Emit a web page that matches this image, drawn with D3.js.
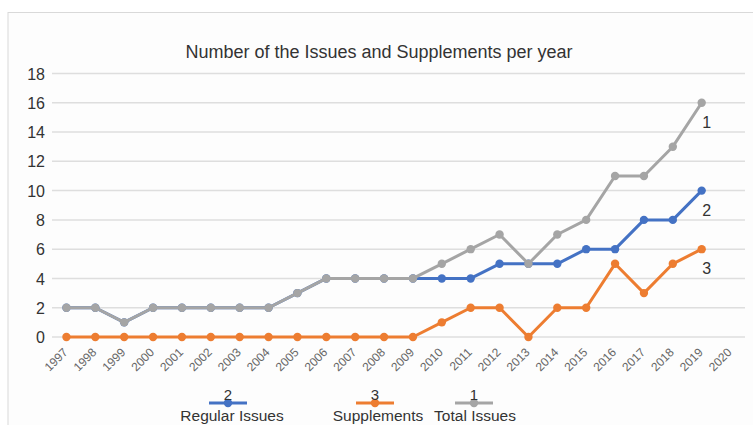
<!DOCTYPE html>
<html><head><meta charset="utf-8">
<script src="https://cdn.jsdelivr.net/npm/d3@7"></script>
<style>body{margin:0;background:#fff;}svg{display:block;font-family:"Liberation Sans",Arial,sans-serif;}</style>
</head><body>
<svg id="c" width="753" height="425"></svg>
<script>
const years = ["1997","1998","1999","2000","2001","2002","2003","2004","2005","2006","2007","2008","2009","2010","2011","2012","2013","2014","2015","2016","2017","2018","2019","2020"];
const regularIssues = [2,2,1,2,2,2,2,2,3,4,4,4,4,4,4,5,5,5,6,6,8,8,10];
const supplements   = [0,0,0,0,0,0,0,0,0,0,0,0,0,1,2,2,0,2,2,5,3,5,6];
const totalIssues   = [2,2,1,2,2,2,2,2,3,4,4,4,4,5,6,7,5,7,8,11,11,13,16];
const yTicks = [0,2,4,6,8,10,12,14,16,18];
const seriesNames = ["Regular Issues","Supplements","Total Issues"];
const seriesTags = ["2","3","1"];
const colors = ["#4472c4","#ed7d31","#a5a5a5"];
const title = "Number of the Issues and Supplements per year";

const svg = d3.select("#c");
svg.append("rect").attr("x",8).attr("y",12.5).attr("width",760).attr("height",430)
  .attr("fill","#fdfdfd").attr("stroke","#d9d9d9").attr("stroke-width",1);

const x = d3.scaleBand().domain(years).range([52,745]).padding(0);
const cx = d => x(d) + x.bandwidth()/2;
const y = d3.scaleLinear().domain([0,18]).range([337,73.5]);

svg.append("text").attr("x",379).attr("y",58).attr("text-anchor","middle")
  .attr("font-size",18).attr("fill","#333").text(title);

// grid
const yAxis = d3.axisLeft(y).tickValues(yTicks).tickSize(0).tickPadding(0);
const gy = svg.append("g").attr("transform","translate(45,0)").call(yAxis);
gy.select(".domain").remove();
gy.selectAll("text").attr("font-size",16).attr("fill","#333").attr("dy","0.35em");
svg.append("g").selectAll("line").data(yTicks).join("line")
  .attr("x1",52).attr("x2",745).attr("y1",d=>y(d)).attr("y2",d=>y(d))
  .attr("stroke","#dedede").attr("stroke-width",1.5);

// x labels
const xAxis = d3.axisBottom(x).tickSize(0).tickPadding(0);
const gx = svg.append("g").attr("transform","translate(0,337)").call(xAxis);
gx.select(".domain").remove();
gx.selectAll("text").attr("font-size",12).attr("fill","#666")
  .attr("text-anchor","end").attr("dy",0)
  .attr("transform","translate(2,16) rotate(-45)");

const data = [regularIssues, supplements, totalIssues];
const line = d3.line().x((d,i)=>cx(years[i])).y(d=>y(d));
data.forEach((vals,k)=>{
  const g = svg.append("g");
  g.append("path").datum(vals).attr("d",line).attr("fill","none")
    .attr("stroke",colors[k]).attr("stroke-width",3).attr("stroke-linejoin","round");
  g.selectAll("circle").data(vals).join("circle")
    .attr("cx",(d,i)=>cx(years[i])).attr("cy",d=>y(d)).attr("r",4.2).attr("fill",colors[k]);
  const last = vals.length-1;
  g.append("text").attr("x",cx(years[last])+5).attr("y",y(vals[last])+25)
    .attr("text-anchor","middle").attr("font-size",16).attr("fill","#333").text(seriesTags[k]);
});

// legend
const legendX = [228,375,474];
seriesNames.forEach((n,k)=>{
  const g = svg.append("g").attr("transform",`translate(${legendX[k]},0)`);
  g.append("line").attr("x1",-19).attr("x2",19).attr("y1",403).attr("y2",403)
    .attr("stroke",colors[k]).attr("stroke-width",3);
  g.append("circle").attr("cx",0).attr("cy",403).attr("r",4.2).attr("fill",colors[k]);
  g.append("text").attr("x",0).attr("y",400).attr("text-anchor","middle")
    .attr("font-size",15).attr("fill","#333").text(seriesTags[k]);
  g.append("text").attr("x",k===0?4:k===1?3:1).attr("y",420.5).attr("text-anchor","middle")
    .attr("font-size",15.5).attr("fill","#333").text(n);
});
</script>
</body></html>
